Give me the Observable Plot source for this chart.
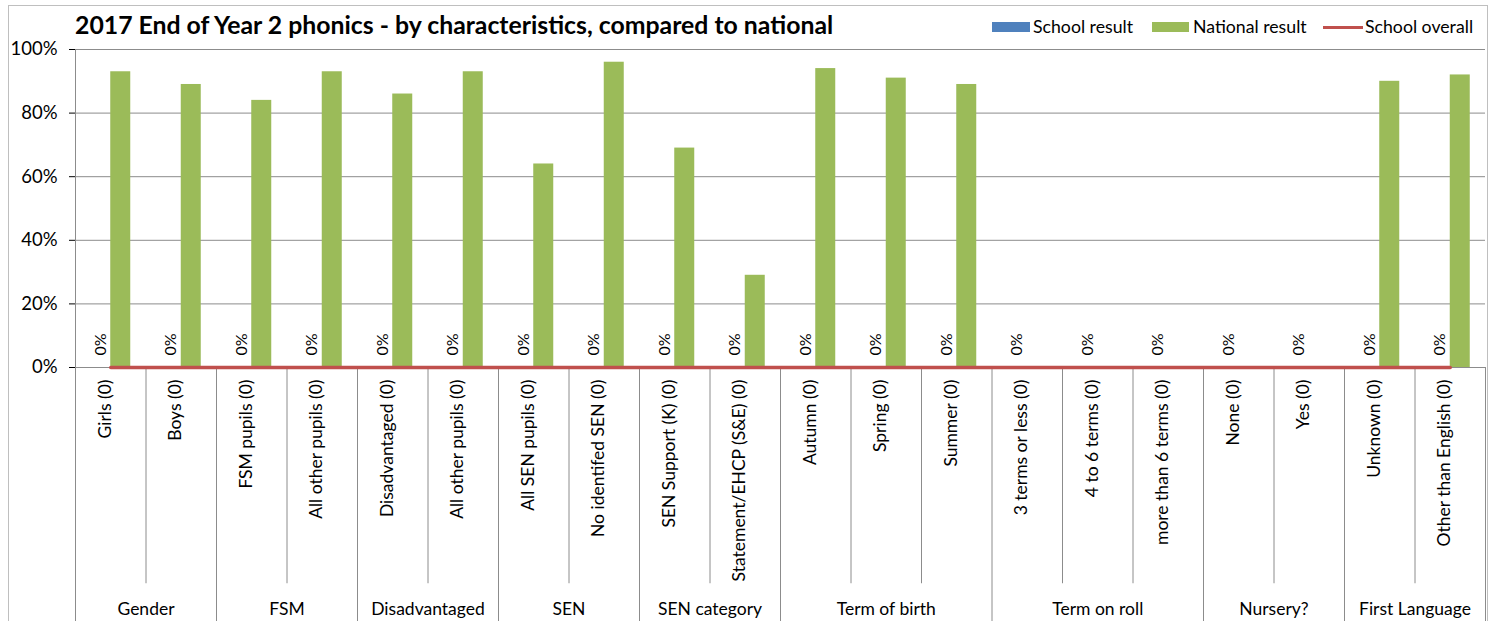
<!DOCTYPE html>
<html><head><meta charset="utf-8">
<script src="https://cdn.jsdelivr.net/npm/d3@7"></script>
<script src="https://cdn.jsdelivr.net/npm/@observablehq/plot@0.6"></script>
<style>
body{margin:0;background:#fff;font-family:Lato,"Open Sans",sans-serif;color:#000;}
#wrap{position:relative;width:1498px;height:621px;overflow:hidden;}
#frame{position:absolute;left:8px;top:5px;width:1478px;height:700px;border:1px solid #bfbfbf;pointer-events:none;z-index:2;}
#head{position:relative;height:30px;z-index:1;}
#title{position:absolute;left:75px;top:11px;font-weight:bold;font-size:24.8px;white-space:nowrap;line-height:28px;}
.lg{position:absolute;top:16px;font-size:17.7px;line-height:22px;white-space:nowrap;}
.sw{position:absolute;}
</style></head>
<body>
<div id="wrap">
  <div id="frame"></div>
  <div id="head">
    <div id="title"></div>
    <div id="legend"></div>
  </div>
  <div id="chart"></div>
</div>
<script>
const title = "2017 End of Year 2 phonics - by characteristics, compared to national";
const seriesNames = ["School result", "National result", "School overall"];
const seriesColors = ["#4F81BD", "#9BBB59", "#C0504D"];
const groups = ["Gender","FSM","Disadvantaged","SEN","SEN category","Term of birth","Term on roll","Nursery?","First Language"];
const groupSizes = [2,2,2,2,2,3,3,2,2];
const categories = ["Girls (0)","Boys (0)","FSM pupils (0)","All other pupils (0)","Disadvantaged (0)","All other pupils (0)","All SEN pupils (0)","No identifed SEN (0)","SEN Support (K) (0)","Statement/EHCP (S&E) (0)","Autumn (0)","Spring (0)","Summer (0)","3 terms or less (0)","4 to 6 terms (0)","more than 6 terms (0)","None (0)","Yes (0)","Unknown (0)","Other than English (0)"];
const schoolResult = [0,0,0,0,0,0,0,0,0,0,0,0,0,0,0,0,0,0,0,0];
const nationalResult = [0.93,0.89,0.84,0.93,0.86,0.93,0.64,0.96,0.69,0.29,0.94,0.91,0.89,null,null,null,null,null,0.90,0.92];
const schoolOverall = [0,0,0,0,0,0,0,0,0,0,0,0,0,0,0,0,0,0,0,0];
const yTicks = [0,0.2,0.4,0.6,0.8,1];

document.getElementById("title").textContent = title;
// legend
const lg = document.getElementById("legend");
const legendItems = [
  {sw:{left:992,top:22,width:38,height:10}, text:1033},
  {sw:{left:1152,top:22,width:37,height:10}, text:1193},
  {sw:{left:1323,top:26,width:40,height:3}, text:1365}
];
legendItems.forEach((it,k)=>{
  const s=document.createElement("div");s.className="sw";
  Object.assign(s.style,{left:it.sw.left+"px",top:it.sw.top+"px",width:it.sw.width+"px",height:it.sw.height+"px",background:seriesColors[k]});
  lg.appendChild(s);
  const t=document.createElement("div");t.className="lg";t.style.left=it.text+"px";t.textContent=seriesNames[k];
  lg.appendChild(t);
});

const idx = d3.range(categories.length);
const pct = d3.format(".0%");
// group boundaries and centers
const groupStarts = [];
let acc = 0;
groupSizes.forEach(n=>{groupStarts.push(acc); acc+=n;});
const groupBounds = groupStarts.concat([acc]);
const innerBounds = idx.filter(i=>i>0 && !groupStarts.includes(i));
const gIdx = d3.range(groups.length);
const grid = "#8c8c8c";

const plot = Plot.plot({
  width: 1498,
  height: 591,
  marginTop: 19,
  marginBottom: 254,
  marginLeft: 75,
  marginRight: 13,
  style: {fontFamily: "Lato, 'Open Sans', sans-serif", fontSize: "18.5px", color: "#000", background: "transparent"},
  x: {domain: [0, categories.length], axis: null},
  y: {domain: [0, 1], ticks: yTicks, tickFormat: pct, tickSize: 6, tickPadding: 12, label: null},
  marks: [
    Plot.ruleY(yTicks, {stroke: grid, strokeOpacity: 1}),
    Plot.ruleX(innerBounds, {x: d=>d, y1: 0, y2: -0.68, stroke: grid, strokeOpacity: 1}),
    Plot.ruleX(groupBounds, {x: d=>d, y1: d=>d===0?1:0, y2: -0.9, stroke: grid, strokeOpacity: 1}),
    Plot.rectY(idx, {x1: i=>i, x2: i=>i+1, y: i=>schoolResult[i], fill: seriesColors[0], insetLeft: 15.25, insetRight: 35.25}),
    Plot.rectY(idx.filter(i=>nationalResult[i]!=null), {x1: i=>i, x2: i=>i+1, y: i=>nationalResult[i], fill: seriesColors[1], insetLeft: 35.25, insetRight: 15.25}),
    Plot.line(idx, {x: i=>i+0.5, y: i=>schoolOverall[i], stroke: seriesColors[2], strokeWidth: 3.5}),
    Plot.text(idx, {x: i=>i+0.5, y: i=>schoolResult[i], text: i=>pct(schoolResult[i]), rotate: -90, textAnchor: "start", dx: -10, dy: -12, fontSize: 16, fill: "#000"}),
    Plot.text(idx, {x: i=>i+0.5, frameAnchor: "bottom", text: i=>categories[i], rotate: -90, textAnchor: "end", dy: 12, fontSize: 17.5, fill: "#000"}),
    Plot.text(gIdx, {x: g=>groupStarts[g] + groupSizes[g]/2, frameAnchor: "bottom", text: g=>groups[g], dy: 247, fontSize: 17.5, fill: "#000"})
  ]
});
document.getElementById("chart").appendChild(plot);
</script>
</body></html>
